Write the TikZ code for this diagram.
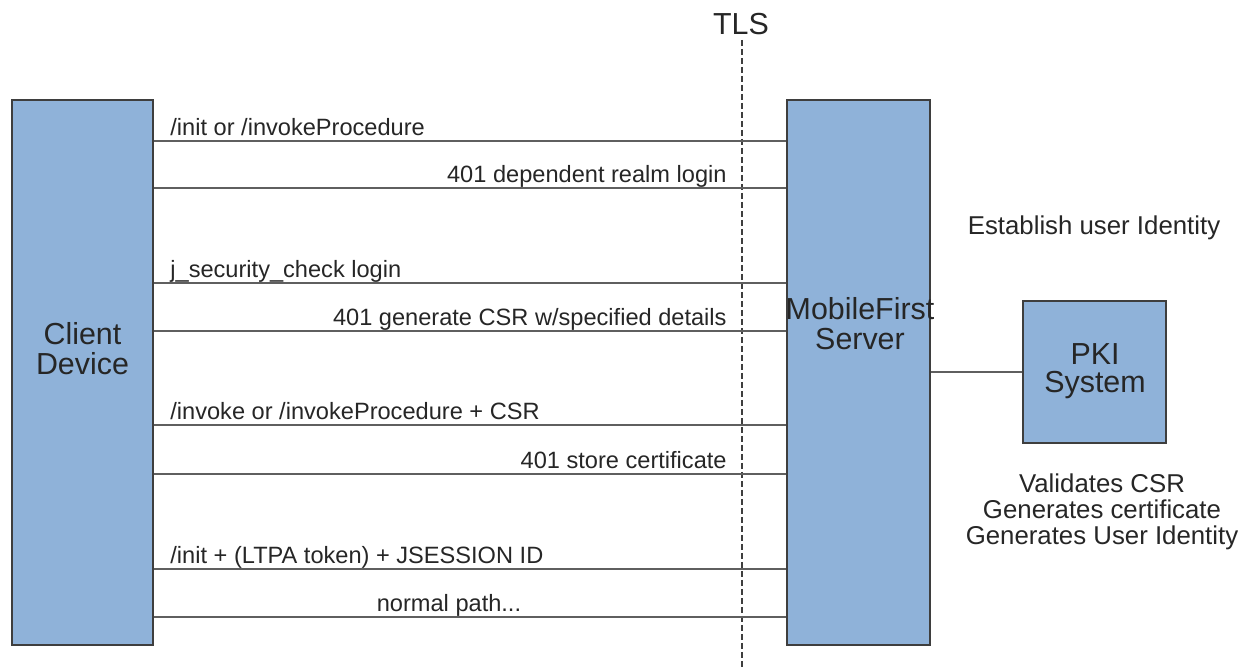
\documentclass[tikz,border=0pt]{standalone}
\usepackage{fontspec}
\setmainfont{Liberation Sans}
\usepackage{tikz}
\usetikzlibrary{positioning}
\definecolor{boxblue}{RGB}{143,178,217}
\definecolor{edgegray}{RGB}{62,62,62}
\definecolor{msggray}{RGB}{95,95,95}
\tikzset{
  unitbox/.style={draw=edgegray,line width=0.8pt,fill=boxblue,inner sep=0pt},
  bigtxt/.style={font=\fontsize{15.2}{14}\selectfont,align=center,inner sep=0pt,text=black!85},
  msgline/.style={draw=msggray,line width=1pt},
  msgtxt/.style={font=\fontsize{11.8}{13}\selectfont,inner sep=0pt,text=black!85},
  sidetxt/.style={font=\fontsize{12.9}{13}\selectfont,align=center,inner sep=0pt,text=black!85}
}

\begin{document}
\begin{tikzpicture}[x=0.5pt,y=-0.5pt]
  \useasboundingbox (0,0) rectangle (1248,667);
  % TLS boundary
  \node[bigtxt,anchor=base] (tls) at (741,35) {TLS};
  \coordinate (tlsend) at (742,667);
  \draw[edgegray,line width=0.6pt,dash pattern=on 3pt off 1.5pt] (742,40) -- (tlsend);
  % the three boxes
  \node[unitbox,minimum width=70.5pt,minimum height=272.5pt] (client) at (82.5,372.5) {};
  \node[unitbox,minimum width=71.5pt,minimum height=272.5pt] (server) at (858.5,372.5) {};
  \node[unitbox,minimum width=71.5pt,minimum height=71pt] (pki) at (1094.5,372) {};
  \node[bigtxt,anchor=base,font=\fontsize{15.2}{15}\selectfont] at (82.5,375) {Client\\Device};
  \node[bigtxt,anchor=base,font=\fontsize{15.2}{15}\selectfont] at (860,350) {MobileFirst\\Server};
  \node[bigtxt,anchor=base] at (1095,393) {PKI\\System};
  % server to PKI link
  \draw[msgline] (server.east |- pki.west) -- (pki.west);
  % messages between client and server
  \foreach \y/\side/\lx/\txt in {
      141/base west/170/{/init or /invokeProcedure},
      188/base east/727/{401 dependent realm login},
      283/base west/170/{j\_security\_check login},
      331/base east/727/{401 generate CSR w/specified details},
      425/base west/170/{/invoke or /invokeProcedure + CSR},
      474/base east/727/{401 store certificate},
      569/base west/170/{/init + (LTPA token) + JSESSION ID},
      617/base/449/{normal path...}}{
    \draw[msgline] (client.east |- 0,\y) -- (server.west |- 0,\y);
    \node[msgtxt,anchor=\side] at (\lx,\y-5) {\txt};
  }
  % notes beside the PKI system
  \node[sidetxt,anchor=base] (ident) at (1094,235) {Establish user Identity};
  \node[sidetxt,anchor=base] (valid) at (1102,545) {Validates CSR\\Generates certificate\\Generates User Identity};
\end{tikzpicture}
\end{document}
